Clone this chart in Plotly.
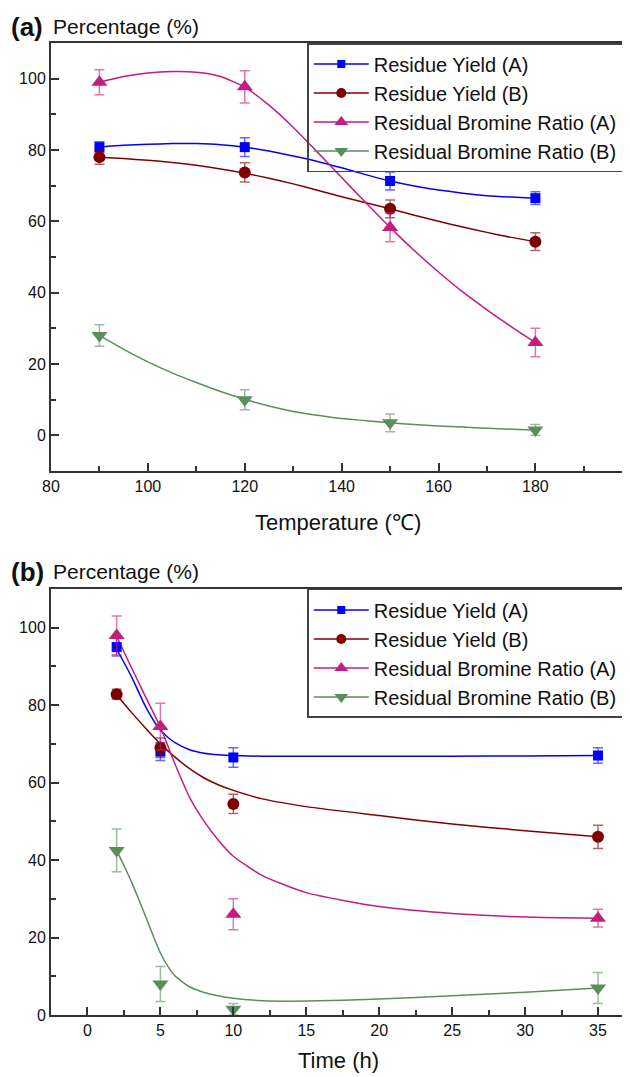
import plotly.graph_objects as go

# ---------------- data: panel (a) temperature ----------------
temp_x = [90, 120, 150, 180]
temp_yield_a = [80.8, 80.8, 71.3, 66.5]
temp_yield_a_err = [1.5, 2.6, 2.5, 1.8]
temp_yield_b = [78.0, 73.7, 63.5, 54.3]
temp_yield_b_err = [2.0, 2.7, 2.5, 2.5]
temp_br_a = [99.0, 97.7, 58.3, 26.0]
temp_br_a_err = [3.5, 4.5, 4.0, 4.0]
temp_br_b = [28.0, 10.0, 3.5, 1.5]
temp_br_b_err = [3.0, 2.8, 2.5, 1.5]

# fitted curves
temp_fit_x = [90, 95, 100, 105, 110, 115, 120, 125, 130, 135, 140, 145, 150, 155, 160, 165, 170, 175, 180]
temp_fit_yield_a = [80.8, 81.3, 81.6, 81.8, 81.8, 81.5, 80.8, 79.7, 78.3, 76.8, 75.0, 73.1, 71.3, 69.9, 68.8, 67.9, 67.2, 66.8, 66.5]
temp_fit_yield_b = [78.0, 77.6, 77.1, 76.5, 75.7, 74.7, 73.5, 72.1, 70.5, 68.7, 66.9, 65.2, 63.5, 61.7, 60.0, 58.4, 56.9, 55.5, 54.3]
temp_fit_br_a = [99.0, 100.6, 101.6, 102.0, 101.8, 100.6, 97.6, 92.6, 86.4, 79.4, 72.3, 65.2, 58.3, 51.8, 45.8, 40.2, 35.2, 30.5, 26.0]
temp_fit_br_b = [28.0, 24.1, 20.6, 17.5, 14.8, 12.3, 10.1, 8.2, 6.7, 5.6, 4.7, 4.1, 3.5, 3.0, 2.6, 2.3, 2.0, 1.7, 1.5]

# ---------------- data: panel (b) time ----------------
time_x = [2, 5, 10, 35]
time_yield_a = [95.0, 68.0, 66.5, 67.0]
time_yield_a_err = [2.3, 2.3, 2.5, 2.0]
time_yield_b = [82.8, 69.0, 54.5, 46.0]
time_yield_b_err = [1.3, 2.5, 2.5, 3.0]
time_br_a = [98.0, 74.5, 26.0, 25.0]
time_br_a_err = [5.0, 6.0, 4.0, 2.3]
time_br_b = [42.5, 8.0, 1.5, 7.0]
time_br_b_err = [5.5, 4.5, 1.5, 4.0]

time_fit_x = [2, 3, 4, 5, 6, 7, 8, 9, 10, 12, 15, 20, 25, 30, 35]
time_fit_yield_a = [94.5, 87.5, 79.5, 73.5, 70.3, 68.5, 67.6, 67.2, 67.0, 66.8, 66.8, 66.8, 66.8, 66.9, 67.0]
time_fit_yield_b = [82.7, 78.2, 74.0, 70.0, 66.6, 63.6, 61.2, 59.4, 58.0, 55.8, 53.8, 51.5, 49.3, 47.6, 46.0]
time_fit_br_a = [97.8, 89.8, 82.0, 74.3, 64.8, 56.2, 50.0, 45.0, 41.0, 36.0, 31.6, 28.0, 26.2, 25.3, 25.0]
time_fit_br_b_x = [2, 2.5, 3, 3.5, 4, 4.5, 5, 5.5, 6, 7, 8, 9, 10, 12, 15, 20, 25, 30, 35]
time_fit_br_b = [42.5, 38.6, 34.5, 30.0, 25.3, 20.5, 16.0, 12.6, 10.1, 7.3, 5.8, 4.9, 4.3, 3.7, 3.6, 4.1, 5.0, 5.9, 7.0]

series_names = ["Residue Yield (A)", "Residue Yield (B)", "Residual Bromine Ratio (A)", "Residual Bromine Ratio (B)"]
colors = ["#0000FF", "#800000", "#C41C7F", "#5B8E5B"]
err_colors = ["rgba(0,0,255,0.6)", "rgba(128,0,0,0.6)", "rgba(196,28,127,0.6)", "rgba(91,142,91,0.6)"]
symbols = ["square", "circle", "triangle-up", "triangle-down"]
sizes = [10, 12, 14, 14]

FONT = "Liberation Sans, Arial, sans-serif"

fig = go.Figure()

panels = [
    ("x", "y", "legend", temp_x, [temp_yield_a, temp_yield_b, temp_br_a, temp_br_b],
     [temp_yield_a_err, temp_yield_b_err, temp_br_a_err, temp_br_b_err],
     [temp_fit_x] * 4, [temp_fit_yield_a, temp_fit_yield_b, temp_fit_br_a, temp_fit_br_b]),
    ("x2", "y2", "legend2", time_x, [time_yield_a, time_yield_b, time_br_a, time_br_b],
     [time_yield_a_err, time_yield_b_err, time_br_a_err, time_br_b_err],
     [time_fit_x, time_fit_x, time_fit_x, time_fit_br_b_x],
     [time_fit_yield_a, time_fit_yield_b, time_fit_br_a, time_fit_br_b]),
]

for xa, ya, leg, px, ys, errs, fxs, fys in panels:
    for i in range(4):
        fig.add_trace(go.Scatter(
            x=fxs[i], y=fys[i], xaxis=xa, yaxis=ya, mode="lines",
            line=dict(color=colors[i], width=1.5, shape="spline", smoothing=0.6),
            showlegend=False, hoverinfo="skip"))
    for i in range(4):
        fig.add_trace(go.Scatter(
            x=px, y=ys[i], xaxis=xa, yaxis=ya, mode="markers",
            marker=dict(color=colors[i], symbol=symbols[i], size=sizes[i], line=dict(width=0)),
            error_y=dict(type="data", array=errs[i], color=err_colors[i], thickness=1.5, width=5),
            showlegend=False))
    for i in range(4):
        fig.add_trace(go.Scatter(
            x=[None], y=[None], xaxis=xa, yaxis=ya, mode="lines+markers",
            name=series_names[i], legend=leg,
            marker=dict(color=colors[i], symbol=symbols[i], size=sizes[i] - 2),
            line=dict(color=colors[i], width=1.5)))

axis_common = dict(showgrid=False, zeroline=False, showline=True, linecolor="#333333", linewidth=2,
                   mirror=True, ticks="inside", ticklen=8, tickwidth=1.5, tickcolor="#333333",
                   tickfont=dict(family=FONT, size=16, color="#111111"))

minor_common = dict(ticks="inside", ticklen=5, tickwidth=1.5, tickcolor="#333333")

legend_common = dict(font=dict(family=FONT, size=20, color="#111111"), bgcolor="rgba(255,255,255,0)",
                     bordercolor="#444444", borderwidth=1.5, xanchor="right", yanchor="top",
                     itemwidth=55, tracegroupgap=0)

fig.update_layout(
    width=630, height=1077,
    margin=dict(l=42, r=11, t=35, b=70),
    plot_bgcolor="white", paper_bgcolor="white",
    font=dict(family=FONT, color="#111111"),
    xaxis=dict(domain=[0, 1], anchor="y", range=[80, 198.5], dtick=20, tick0=80,
               minor=dict(dtick=10, tick0=80, **minor_common), **axis_common),
    yaxis=dict(domain=[0.5597, 1.0], anchor="x", range=[-10, 110], dtick=20, tick0=0,
               minor=dict(dtick=10, tick0=0, **minor_common), **axis_common),
    xaxis2=dict(domain=[0, 1], anchor="y2", range=[-2.5, 36.85], dtick=5, tick0=0,
                minor=dict(dtick=2.5, tick0=0, **minor_common), **axis_common),
    yaxis2=dict(domain=[0, 0.4383], anchor="x2", range=[0, 110], dtick=20, tick0=0,
                minor=dict(dtick=10, tick0=0, **minor_common), **axis_common),
    legend=dict(x=0.997, y=1.0, **legend_common),
    legend2=dict(x=0.997, y=0.4383, **legend_common),
    annotations=[
        dict(text="<b>(a)</b>", xref="paper", yref="paper", x=-0.073, y=1.0165, xanchor="left", yanchor="middle",
             showarrow=False, font=dict(family=FONT, size=26, color="#111111")),
        dict(text="Percentage (%)", xref="paper", yref="paper", x=0.0, y=1.0165, xanchor="left", yanchor="middle",
             showarrow=False, font=dict(family=FONT, size=21, color="#111111")),
        dict(text="<b>(b)</b>", xref="paper", yref="paper", x=-0.073, y=0.4558, xanchor="left", yanchor="middle",
             showarrow=False, font=dict(family=FONT, size=26, color="#111111")),
        dict(text="Percentage (%)", xref="paper", yref="paper", x=0.0, y=0.4558, xanchor="left", yanchor="middle",
             showarrow=False, font=dict(family=FONT, size=21, color="#111111")),
        dict(text="Temperature (℃)", xref="paper", yref="paper", x=0.5, y=0.5072, xanchor="center", yanchor="middle",
             showarrow=False, font=dict(family=FONT, size=22, color="#111111")),
        dict(text="Time (h)", xref="paper", yref="paper", x=0.5, y=-0.0463, xanchor="center", yanchor="middle",
             showarrow=False, font=dict(family=FONT, size=22, color="#111111")),
    ],
)

fig.write_html("out.html")
